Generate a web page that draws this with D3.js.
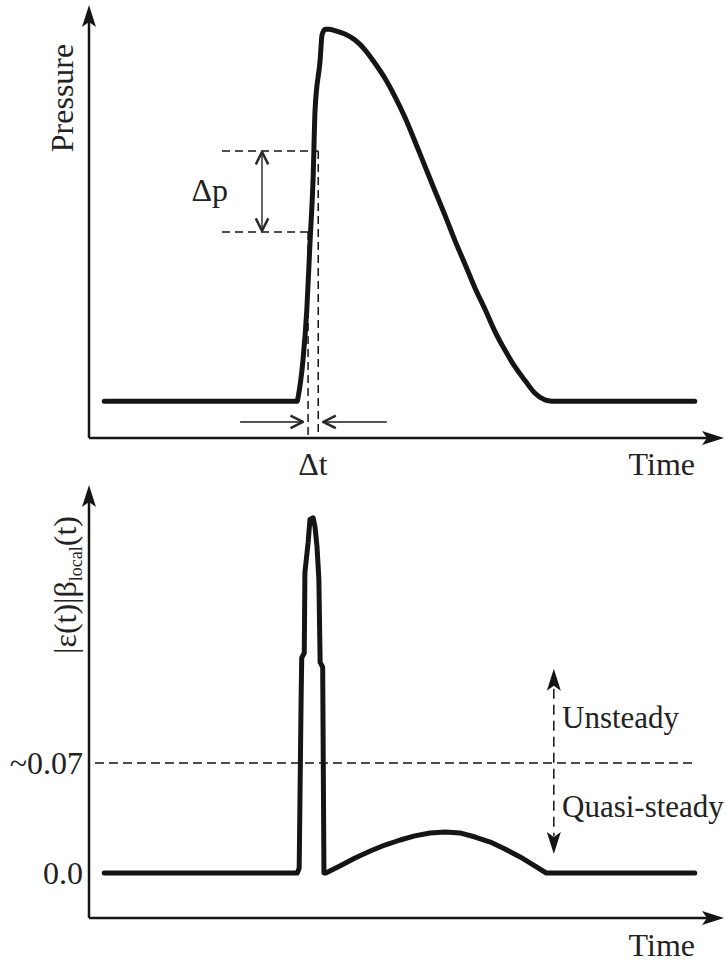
<!DOCTYPE html>
<html><head><meta charset="utf-8">
<script src="https://cdn.jsdelivr.net/npm/d3@7"></script>
<style>
body{margin:0;background:#fff}
svg{display:block}
text{font-family:"Liberation Serif","Times New Roman",serif;fill:#222}
</style>
</head><body>
<svg id="c" width="726" height="965"></svg>
<script>
// ---- data (arbitrary time units, arbitrary pressure units) ----
const pressureTime  = [0.24, 3.28, 3.29, 3.37, 3.43, 3.48, 3.53, 3.56, 3.64, 3.67, 3.72, 3.78, 3.87, 4.03, 4.19, 4.35, 4.50, 4.66, 4.82, 4.98, 5.13, 5.29, 5.45, 5.61, 5.76, 5.92, 6.08, 6.24, 6.39, 6.55, 6.71, 6.87, 7.02, 7.18, 7.29, 9.54];
const pressureValue = [0.85, 0.85, 0.92, 1.80, 2.96, 4.50, 6.03, 7.57, 8.73, 9.31, 9.44, 9.44, 9.41, 9.33, 9.19, 8.96, 8.66, 8.31, 7.88, 7.39, 6.86, 6.28, 5.70, 5.13, 4.57, 4.02, 3.46, 2.96, 2.47, 2.03, 1.64, 1.32, 1.04, 0.88, 0.85, 0.85];

const epsTime  = [0.24, 3.28, 3.31, 3.34, 3.35, 3.39, 3.40, 3.45, 3.48, 3.53, 3.56, 3.59, 3.62, 3.64, 3.68, 3.70, 3.73, 3.95, 4.19, 4.43, 4.66, 4.90, 5.13, 5.37, 5.61, 5.84, 6.08, 6.32, 6.55, 6.79, 7.02, 7.20, 9.54];
const epsValue = [0, 0, 0.003, 0.110, 0.137, 0.140, 0.191, 0.210, 0.225, 0.226, 0.220, 0.208, 0.187, 0.134, 0.131, 0.0, 0.0, 0.0045, 0.0096, 0.0140, 0.0178, 0.0210, 0.0236, 0.0255, 0.0261, 0.0255, 0.0229, 0.0197, 0.0153, 0.0102, 0.0045, 0, 0];

const epsTickValues = [0, 0.07];
const epsTickLabels = ["0.0", "~0.07"];
const threshold = 0.07;
const deltaPLevels = [4.76, 6.63];   // lower / upper dashed levels
const deltaTTimes  = [3.45, 3.61];   // left / right dashed times
const deltaTArrowsFrom = [2.38, 4.69];
const deltaTArrowsTo   = [3.37, 3.69];
const deltaTArrowLevel = 0.37;
const regionArrowTime = 7.32;
const regionArrowSpan = [0.0121, 0.1300]; // arrow tips below / above (eps units)

// ---- layout ----
const svg = d3.select("#c");
const x  = d3.scaleLinear().domain([0, 10]).range([89, 724]);
const yP = d3.scaleLinear().domain([0, 10]).range([438, 5]);
const yE = d3.scaleLinear().domain([0, 0.07]).range([873, 763]);
const botAxisY = 918, botAxisTop = 485;
const ink = "#151515";
const FS = 32;

svg.append("defs").append("marker")
  .attr("id", "chev").attr("viewBox", "0 0 12 12")
  .attr("refX", 11).attr("refY", 6)
  .attr("markerWidth", 15).attr("markerHeight", 15)
  .attr("markerUnits", "userSpaceOnUse").attr("orient", "auto-start-reverse")
  .append("path").attr("d", "M1,1 L11,6 L1,11").attr("fill", "none")
  .attr("stroke", "#2a2a2a").attr("stroke-width", 2);

function arrowHead(g, tx, ty, dir) {
  let p;
  if (dir === "up")   p = `M${tx},${ty} L${tx-7},${ty+22} L${tx},${ty+17} L${tx+7},${ty+22} Z`;
  if (dir === "down") p = `M${tx},${ty} L${tx-7},${ty-22} L${tx},${ty-17} L${tx+7},${ty-22} Z`;
  if (dir === "right")p = `M${tx},${ty} L${tx-22},${ty-7} L${tx-17},${ty} L${tx-22},${ty+7} Z`;
  g.append("path").attr("d", p).attr("fill", ink);
}

// ===== TOP PANEL =====
const gTop = svg.append("g");
gTop.append("line").attr("x1", x(0)).attr("y1", yP(0)).attr("x2", x(10) - 10).attr("y2", yP(0))
  .attr("stroke", ink).attr("stroke-width", 2.5);
arrowHead(gTop, x(10), yP(0), "right");
gTop.append("line").attr("x1", x(0)).attr("y1", yP(0)).attr("x2", x(0)).attr("y2", yP(10) + 10)
  .attr("stroke", ink).attr("stroke-width", 2.5);
arrowHead(gTop, x(0), yP(10), "up");

const dash = "8,5";
gTop.append("line").attr("x1", 222).attr("x2", x(deltaTTimes[1])).attr("y1", yP(deltaPLevels[1])).attr("y2", yP(deltaPLevels[1]))
  .attr("stroke", ink).attr("stroke-width", 1.5).attr("stroke-dasharray", dash);
gTop.append("line").attr("x1", 222).attr("x2", x(deltaTTimes[0])).attr("y1", yP(deltaPLevels[0])).attr("y2", yP(deltaPLevels[0]))
  .attr("stroke", ink).attr("stroke-width", 1.5).attr("stroke-dasharray", dash);
gTop.append("line").attr("x1", x(deltaTTimes[0])).attr("x2", x(deltaTTimes[0])).attr("y1", yP(deltaPLevels[0])).attr("y2", yP(0))
  .attr("stroke", ink).attr("stroke-width", 1.5).attr("stroke-dasharray", dash);
gTop.append("line").attr("x1", x(deltaTTimes[1])).attr("x2", x(deltaTTimes[1])).attr("y1", yP(deltaPLevels[1])).attr("y2", yP(0))
  .attr("stroke", ink).attr("stroke-width", 1.5).attr("stroke-dasharray", dash);

gTop.append("line").attr("x1", 262).attr("x2", 262)
  .attr("y1", yP(deltaPLevels[1]) + 1).attr("y2", yP(deltaPLevels[0]) - 1)
  .attr("stroke", "#555").attr("stroke-width", 1.8)
  .attr("marker-start", "url(#chev)").attr("marker-end", "url(#chev)");
deltaTArrowsFrom.forEach((f, i) => {
  gTop.append("line").attr("x1", x(f)).attr("x2", x(deltaTArrowsTo[i]))
    .attr("y1", yP(deltaTArrowLevel)).attr("y2", yP(deltaTArrowLevel))
    .attr("stroke", "#555").attr("stroke-width", 1.8).attr("marker-end", "url(#chev)");
});

const pLine = d3.line().x(d => x(d[0])).y(d => yP(d[1])).curve(d3.curveMonotoneX);
gTop.append("path").datum(pressureTime.map((t, i) => [t, pressureValue[i]]))
  .attr("d", pLine).attr("fill", "none").attr("stroke", ink)
  .attr("stroke-width", 5).attr("stroke-linejoin", "round").attr("stroke-linecap", "round");

gTop.append("text").attr("transform", "translate(73,98) rotate(-90)")
  .attr("text-anchor", "middle").attr("font-size", FS).text("Pressure");
gTop.append("text").attr("x", 228).attr("y", 201).attr("text-anchor", "end").attr("font-size", FS).text("Δp");
gTop.append("text").attr("x", 313).attr("y", 475).attr("text-anchor", "middle").attr("font-size", FS).text("Δt");
gTop.append("text").attr("x", 695).attr("y", 475).attr("text-anchor", "end").attr("font-size", FS).text("Time");

// ===== BOTTOM PANEL =====
const gBot = svg.append("g");
gBot.append("line").attr("x1", x(0)).attr("y1", botAxisY).attr("x2", x(10) - 10).attr("y2", botAxisY)
  .attr("stroke", ink).attr("stroke-width", 2.5);
arrowHead(gBot, x(10), botAxisY, "right");
gBot.append("line").attr("x1", x(0)).attr("y1", botAxisY).attr("x2", x(0)).attr("y2", botAxisTop + 10)
  .attr("stroke", ink).attr("stroke-width", 2.5);
arrowHead(gBot, x(0), botAxisTop, "up");

const ax = gBot.append("g").attr("transform", `translate(${x(0)},0)`)
  .call(d3.axisLeft(yE).tickValues(epsTickValues).tickFormat((d, i) => epsTickLabels[i]).tickSize(0).tickPadding(6));
ax.select(".domain").remove();
ax.selectAll("text").attr("font-size", FS).attr("font-family", '"Liberation Serif","Times New Roman",serif').attr("fill", "#222").attr("dy", "0.33em");

gBot.append("line").attr("x1", 95).attr("x2", x(9.54)).attr("y1", yE(threshold)).attr("y2", yE(threshold))
  .attr("stroke", ink).attr("stroke-width", 1.5).attr("stroke-dasharray", "9,5");

const ra = x(regionArrowTime);
gBot.append("line").attr("x1", ra).attr("x2", ra)
  .attr("y1", yE(regionArrowSpan[1]) + 20).attr("y2", yE(regionArrowSpan[0]) - 18)
  .attr("stroke", ink).attr("stroke-width", 1.5).attr("stroke-dasharray", "10,6");
arrowHead(gBot, ra, yE(regionArrowSpan[1]), "up");
arrowHead(gBot, ra, yE(regionArrowSpan[0]), "down");

const eLine = d3.line().x(d => x(d[0])).y(d => yE(d[1])).curve(d3.curveLinear);
gBot.append("path").datum(epsTime.map((t, i) => [t, epsValue[i]]))
  .attr("d", eLine).attr("fill", "none").attr("stroke", ink)
  .attr("stroke-width", 5).attr("stroke-linejoin", "round").attr("stroke-linecap", "round");

const yl = gBot.append("text").attr("transform", "translate(76,585) rotate(-90)")
  .attr("text-anchor", "middle").attr("font-size", FS);
yl.append("tspan").text("|ε(t)|β");
yl.append("tspan").attr("font-size", 18).attr("dy", 6).text("local");
yl.append("tspan").attr("dy", -6).text("(t)");

gBot.append("text").attr("x", 562).attr("y", 728).attr("font-size", 31).text("Unsteady");
gBot.append("text").attr("x", 562).attr("y", 817).attr("font-size", 31).text("Quasi-steady");
gBot.append("text").attr("x", 695).attr("y", 956).attr("text-anchor", "end").attr("font-size", FS).text("Time");
</script>
</body></html>
